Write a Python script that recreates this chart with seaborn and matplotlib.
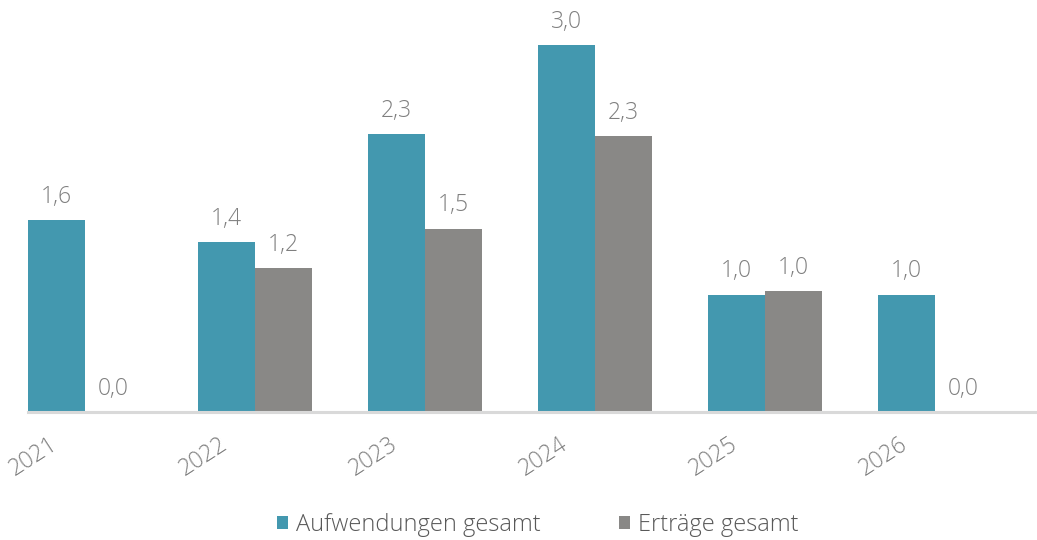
import pandas as pd
import seaborn as sns
import matplotlib.pyplot as plt
from matplotlib.transforms import ScaledTranslation

# Values
jahre = ['2021', '2022', '2023', '2024', '2025', '2026']
aufwendungen = [1.57, 1.39, 2.27, 3.00, 0.96, 0.96]
ertraege = [0.00, 1.18, 1.50, 2.26, 0.99, 0.00]
serien = ['Aufwendungen gesamt', 'Erträge gesamt']

df = pd.DataFrame({
    'jahr': jahre * 2,
    'wert': aufwendungen + ertraege,
    'serie': [serien[0]] * len(jahre) + [serien[1]] * len(jahre),
})

teal = '#4398AF'
grau = '#898886'
text_grau = '#7F7F7F'

sns.set_theme(style='white')
plt.rcParams['font.family'] = ['Open Sans', 'DejaVu Sans']

fig = plt.figure(figsize=(10.37, 5.4), dpi=100)
ax = fig.add_axes([28 / 1037, 128 / 540, (1035 - 28) / 1037, 412 / 540])

sns.barplot(data=df, x='jahr', y='wert', hue='serie', palette=[teal, grau],
            width=0.67, saturation=1, linewidth=0, ax=ax, legend=True)

# Data labels
for cont in ax.containers:
    ax.bar_label(cont, labels=[f'{b.get_height():.1f}'.replace('.', ',') for b in cont],
                 padding=8, fontsize=16.5, color=text_grau, fontweight='light')

ax.set_xlim(-0.335, 5.588)
ax.set_ylim(0, 410 / 121.7)
ax.set_xlabel('')
ax.set_ylabel('')
ax.set_yticks([])

for s in ['top', 'right', 'left']:
    ax.spines[s].set_visible(False)
ax.spines['bottom'].set_color('#D9D9D9')
ax.spines['bottom'].set_linewidth(2.2)

ax.tick_params(axis='x', length=0, pad=0)
off = ScaledTranslation(-36 / 100, -20 / 100, fig.dpi_scale_trans)
for lbl in ax.get_xticklabels():
    lbl.set_rotation(33)
    lbl.set_ha('right')
    lbl.set_va('top')
    lbl.set_rotation_mode('anchor')
    lbl.set_fontsize(16.5)
    lbl.set_fontweight('light')
    lbl.set_color(text_grau)
    lbl.set_transform(lbl.get_transform() + off)

ax.legend(loc='center', bbox_to_anchor=(538 / 1037, 15 / 540), bbox_transform=fig.transFigure,
          ncol=2, frameon=False, labelcolor='#595959',
          prop={'family': ['Open Sans', 'DejaVu Sans'], 'weight': 'light', 'size': 17},
          handlelength=0.47, handleheight=0.47, handletextpad=0.34, columnspacing=3.3)

fig.savefig('out.png', dpi=100)
